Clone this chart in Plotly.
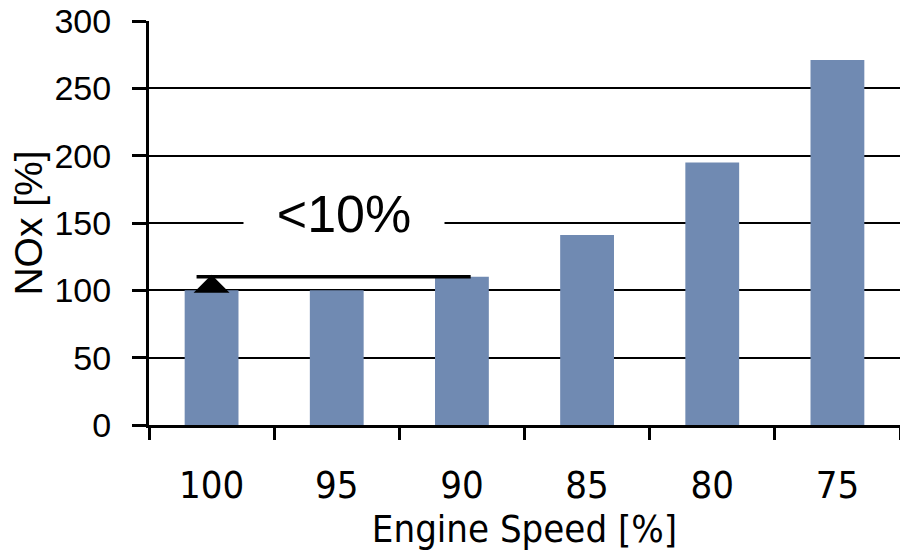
import plotly.graph_objects as go

categories = ["100", "95", "90", "85", "80", "75"]
nox_values = [100, 100, 110, 141, 195, 271]
y_ticks = [0, 50, 100, 150, 200, 250, 300]
bracket_level = 110
label_text = "<10%"

bar_color = "#708ab2"
narrow = "Liberation Sans Narrow, DejaVu Sans Condensed, Arial Narrow, sans-serif"
sans = "Liberation Sans, Arial, sans-serif"

fig = go.Figure()
fig.add_trace(go.Bar(x=categories, y=nox_values, marker=dict(color=bar_color, line=dict(width=0)),
                     width=0.43, hoverinfo="skip"))

fig.update_layout(
    width=900, height=552,
    margin=dict(l=149, r=0, t=21, b=127),
    paper_bgcolor="white", plot_bgcolor="white",
    showlegend=False,
    xaxis=dict(type="category", categoryorder="array", categoryarray=categories,
               showline=True, linecolor="black", linewidth=3,
               ticks="outside", ticklen=12, tickwidth=3, tickcolor="black",
               tickson="boundaries", showgrid=False,
               tickfont=dict(family=narrow, size=38, color="black"),
               ticklabelstandoff=24,
               title=dict(text="Engine Speed [%]", font=dict(family=narrow, size=38, color="black"),
                          standoff=4)),
    yaxis=dict(range=[0, 300], tickvals=y_ticks, showline=True, linecolor="black", linewidth=3,
               ticks="outside", ticklen=14, tickwidth=3, tickcolor="black",
               showgrid=True, gridcolor="black", gridwidth=2, zeroline=False,
               tickfont=dict(family=sans, size=34, color="black"),
               ticklabelstandoff=14,
               title=dict(text="NOx [%]", font=dict(family=sans, size=39, color="black"),
                          standoff=0)),
)

fig.add_shape(type="line", xref="x", yref="y", x0=-0.12, x1=2.07,
              y0=bracket_level, y1=bracket_level, line=dict(color="black", width=3.5))

fig.add_annotation(x=0, y=bracket_level + 1.5, ax=0, ay=nox_values[0], xref="x", yref="y",
                   axref="x", ayref="y", showarrow=True, arrowhead=1, arrowsize=2,
                   arrowwidth=3, arrowcolor="black", text="")

fig.add_annotation(x=1.06, y=157, xref="x", yref="y", text=label_text, showarrow=False,
                   font=dict(family=sans, size=52, color="black"),
                   bgcolor="white", width=200, height=56, borderpad=0)

fig.write_html("out.html")
